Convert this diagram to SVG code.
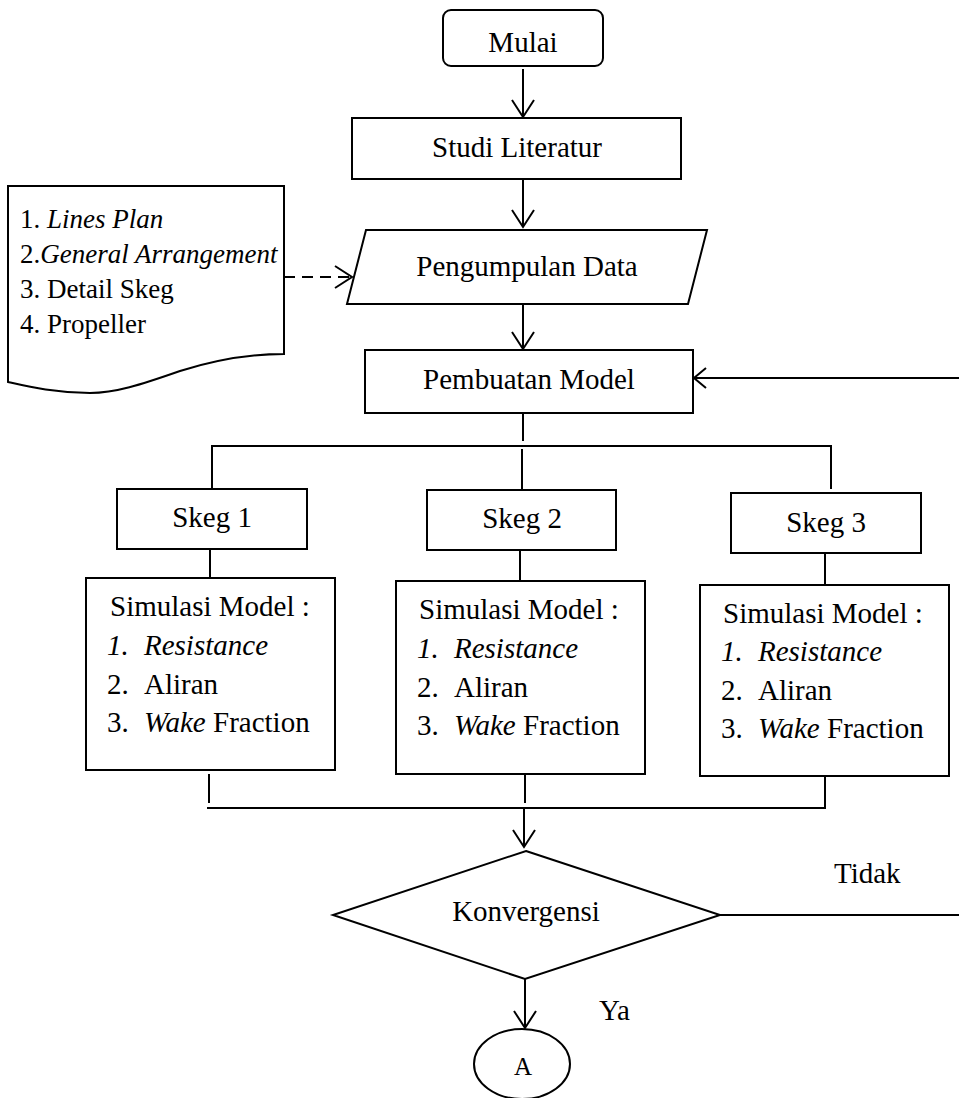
<svg xmlns="http://www.w3.org/2000/svg" width="959" height="1098" viewBox="0 0 959 1098">
<style>
.shape{fill:#fff;stroke:#000;stroke-width:2}
.ln{fill:none;stroke:#000;stroke-width:2}
.t{font-family:"Liberation Serif","Times New Roman",serif;font-size:29px;fill:#000}
.c{text-anchor:middle}
.i{font-style:italic}
.d{font-size:27px}
</style>
<defs>
<marker id="arr" markerUnits="userSpaceOnUse" viewBox="0 0 20 24" refX="18" refY="12" markerWidth="20" markerHeight="24" orient="auto">
<path d="M1,1 L18,12 L1,23" fill="none" stroke="#000" stroke-width="2"/>
</marker>
<marker id="arrs" markerUnits="userSpaceOnUse" viewBox="0 0 14 22" refX="13" refY="11" markerWidth="14" markerHeight="22" orient="auto">
<path d="M1,1 L13,11 L1,21" fill="none" stroke="#000" stroke-width="2"/>
</marker>
</defs>
<rect width="959" height="1098" fill="#fff"/>
<g id="connectors">
<line class="ln" x1="523" y1="69" x2="523" y2="117" marker-end="url(#arr)"/>
<line class="ln" x1="523" y1="176" x2="523" y2="227" marker-end="url(#arr)"/>
<line class="ln" x1="523" y1="300" x2="523" y2="349" marker-end="url(#arr)"/>
<line class="ln" x1="284" y1="277" x2="352" y2="277" stroke-dasharray="11 7" marker-end="url(#arr)"/>
<line class="ln" x1="523" y1="413" x2="523" y2="441"/>
<polyline class="ln" points="212,489 212,446 831,446 831,489"/>
<line class="ln" x1="522" y1="449" x2="522" y2="490"/>
<line class="ln" x1="210" y1="549" x2="210" y2="578"/>
<line class="ln" x1="520" y1="550" x2="520" y2="581"/>
<line class="ln" x1="825" y1="553" x2="825" y2="585"/>
<line class="ln" x1="209" y1="774" x2="209" y2="803"/>
<line class="ln" x1="525" y1="774" x2="525" y2="803"/>
<polyline class="ln" points="207,808 825,808 825,776"/>
<line class="ln" x1="524" y1="808" x2="524" y2="847" marker-end="url(#arr)"/>
<line class="ln" x1="525" y1="979" x2="525" y2="1028" marker-end="url(#arr)"/>
<line class="ln" x1="720" y1="915" x2="959" y2="915"/>
<line class="ln" x1="959" y1="378" x2="694" y2="378" marker-end="url(#arrs)"/>
<text class="t" x="834" y="883">Tidak</text>
<text class="t" x="599" y="1020">Ya</text>
</g>
<g id="mulai">
<rect class="shape" x="443" y="10" width="160" height="56" rx="8"/>
<text class="t c" x="523" y="52">Mulai</text>
</g>
<g id="studi">
<rect class="shape" x="352" y="118" width="329" height="61"/>
<text class="t c" x="517" y="157">Studi Literatur</text>
</g>
<g id="data">
<polygon class="shape" points="366,230 707,230 688,304 347,304"/>
<text class="t c" x="527" y="276">Pengumpulan Data</text>
</g>
<g id="dokumen">
<path class="shape" d="M8,186 L284,186 L284,354 C250,354 215,360 180,371 C140,385 115,393 90,393 C55,393 30,387 8,382 Z"/>
<text class="t d" x="20" y="228">1. <tspan class="i">Lines Plan</tspan></text>
<text class="t d" x="20" y="263">2.<tspan class="i">General Arrangement</tspan></text>
<text class="t d" x="20" y="298">3. Detail Skeg</text>
<text class="t d" x="20" y="333">4. Propeller</text>
</g>
<g id="model">
<rect class="shape" x="365" y="350" width="328" height="63"/>
<text class="t c" x="529" y="389">Pembuatan Model</text>
</g>
<g id="skeg1">
<rect class="shape" x="117" y="489" width="190" height="60"/>
<text class="t c" x="212" y="527">Skeg 1</text>
</g>
<g id="skeg2">
<rect class="shape" x="427" y="490" width="189" height="60"/>
<text class="t c" x="522" y="528">Skeg 2</text>
</g>
<g id="skeg3">
<rect class="shape" x="731" y="493" width="190" height="60"/>
<text class="t c" x="826" y="532">Skeg 3</text>
</g>
<g id="sim1">
<rect class="shape" x="86" y="578" width="249" height="192"/>
<text class="t" x="110" y="616">Simulasi Model :</text>
<text class="t i" x="107" y="655">1.</text><text class="t i" x="144" y="655">Resistance</text>
<text class="t" x="107" y="694">2.</text><text class="t" x="144" y="694">Aliran</text>
<text class="t" x="107" y="732">3.</text><text class="t" x="144" y="732"><tspan class="i">Wake</tspan> Fraction</text>
</g>
<g id="sim2">
<rect class="shape" x="396" y="581" width="249" height="193"/>
<text class="t" x="419" y="619">Simulasi Model :</text>
<text class="t i" x="417" y="658">1.</text><text class="t i" x="454" y="658">Resistance</text>
<text class="t" x="417" y="697">2.</text><text class="t" x="454" y="697">Aliran</text>
<text class="t" x="417" y="735">3.</text><text class="t" x="454" y="735"><tspan class="i">Wake</tspan> Fraction</text>
</g>
<g id="sim3">
<rect class="shape" x="700" y="585" width="249" height="191"/>
<text class="t" x="723" y="623">Simulasi Model :</text>
<text class="t i" x="721" y="661">1.</text><text class="t i" x="758" y="661">Resistance</text>
<text class="t" x="721" y="700">2.</text><text class="t" x="758" y="700">Aliran</text>
<text class="t" x="721" y="738">3.</text><text class="t" x="758" y="738"><tspan class="i">Wake</tspan> Fraction</text>
</g>
<g id="konvergensi">
<polygon class="shape" points="526,851 720,915 525,979 333,915"/>
<text class="t c" x="526" y="921">Konvergensi</text>
</g>
<g id="a">
<ellipse class="shape" cx="522" cy="1064" rx="48" ry="35"/>
<text class="t c" x="523" y="1075" style="font-size:25px">A</text>
</g>
</svg>
